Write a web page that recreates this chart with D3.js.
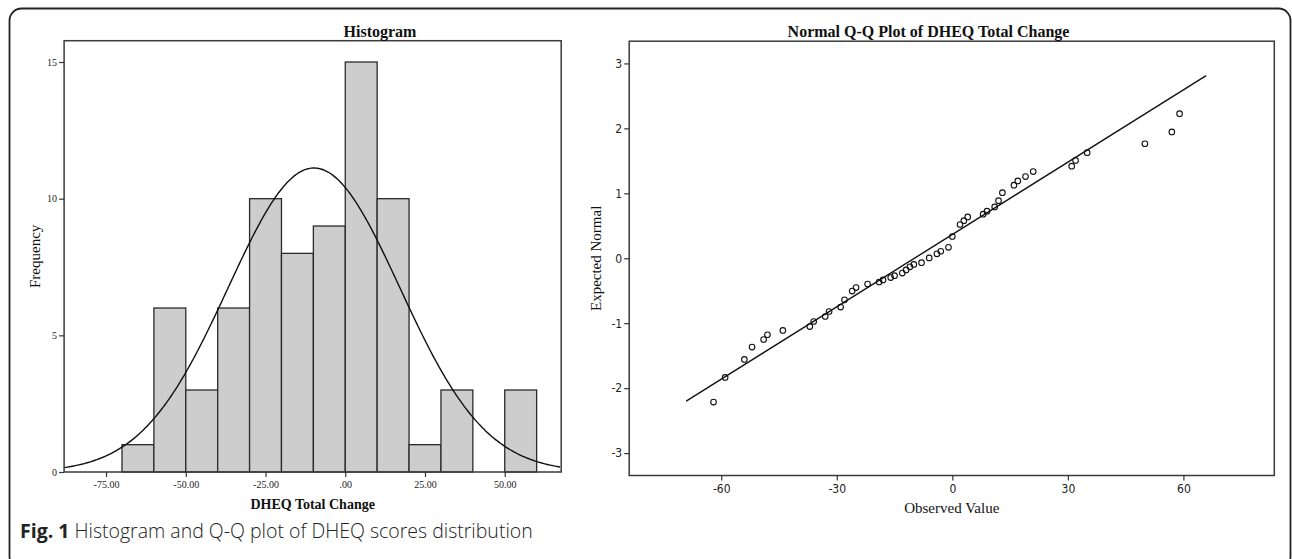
<!DOCTYPE html>
<html>
<head>
<meta charset="utf-8">
<script src="https://cdn.jsdelivr.net/npm/d3@7"></script>
<style>
  html, body { margin: 0; padding: 0; background: #fff; }
  svg { display: block; }
  .tick line { stroke: #333; stroke-width: 1.2; }
</style>
</head>
<body>
<svg id="chart" width="1292" height="559"></svg>
<script>
// ---------------- data ----------------
const histBinStarts = [-70, -60, -50, -40, -30, -20, -10, 0, 10, 20, 30, 40, 50];
const histBinWidth = 10;
const histCounts = [1, 6, 3, 6, 10, 8, 9, 15, 10, 1, 3, 0, 3];
const histXTicks = [-75, -50, -25, 0, 25, 50];
const histXTickLabels = ["-75.00", "-50.00", "-25.00", ".00", "25.00", "50.00"];
const histYTicks = [0, 5, 10, 15];
const curveMean = -9.8;
const curveSD = 26.9;
const curveN = 75;

const qqObserved = [-62, -59, -54, -52, -49, -48, -44, -37, -36, -33, -32, -29, -28, -26, -25, -22,
  -19, -18, -16, -15, -13, -12, -11, -10, -8, -6, -4, -3, -1, 0, 2, 3, 4, 8, 9, 11, 12, 13,
  16, 17, 19, 21, 31, 32, 35, 50, 57, 59];
const qqExpected = [-2.214, -1.835, -1.558, -1.368, -1.251, -1.178, -1.112, -1.052, -0.974, -0.897,
  -0.820, -0.752, -0.640, -0.506, -0.452, -0.397, -0.366, -0.334, -0.297, -0.268, -0.228, -0.180,
  -0.132, -0.095, -0.068, 0.005, 0.068, 0.108, 0.169, 0.335, 0.520, 0.578, 0.637, 0.678, 0.725,
  0.791, 0.886, 1.009, 1.125, 1.191, 1.258, 1.334, 1.418, 1.506, 1.625, 1.763, 1.945, 2.226];
const qqLineX = [-69.1, 65.9];
const qqLineY = [-2.20, 2.812];
const qqXTicks = [-60, -30, 0, 30, 60];
const qqYTicks = [-3, -2, -1, 0, 1, 2, 3];

// ---------------- drawing ----------------
const svg = d3.select("#chart");
svg.append("rect").attr("width", 1292).attr("height", 559).attr("fill", "#fff");

// outer figure frame
svg.append("rect")
  .attr("x", 9.5).attr("y", 8.5).attr("width", 1281).attr("height", 560)
  .attr("rx", 12).attr("ry", 12)
  .attr("fill", "none").attr("stroke", "#222").attr("stroke-width", 1.8);

const serif = "'Liberation Serif', 'DejaVu Serif', serif";
const narrow = "'Liberation Sans Narrow', 'DejaVu Sans Condensed', 'Liberation Sans', sans-serif";
const plain = d => String(d);

// ======== Histogram ========
const hx = d3.scaleLinear().domain([-88.15, 67.7]).range([64.1, 561.2]);
const hy = d3.scaleLinear().domain([0, 15.78]).range([472, 40.7]);

const hg = svg.append("g");
hg.append("defs").append("clipPath").attr("id", "hclip")
  .append("rect").attr("x", hx.range()[0]).attr("y", hy.range()[1])
  .attr("width", hx.range()[1] - hx.range()[0]).attr("height", hy.range()[0] - hy.range()[1]);

hg.selectAll("rect.bar")
  .data(histBinStarts.map((s, i) => ({ s, c: histCounts[i] })).filter(d => d.c > 0))
  .join("rect")
  .attr("class", "bar")
  .attr("x", d => hx(d.s))
  .attr("y", d => hy(d.c))
  .attr("width", d => hx(d.s + histBinWidth) - hx(d.s))
  .attr("height", d => hy(0) - hy(d.c))
  .attr("fill", "#cdcdcd")
  .attr("stroke", "#2a2a2a")
  .attr("stroke-width", 1.3);

// normal curve
const xs = d3.range(hx.domain()[0], hx.domain()[1] + 0.01, 0.5);
const dens = x => curveN * histBinWidth / (curveSD * Math.sqrt(2 * Math.PI)) *
  Math.exp(-0.5 * Math.pow((x - curveMean) / curveSD, 2));
hg.append("path")
  .datum(xs)
  .attr("clip-path", "url(#hclip)")
  .attr("d", d3.line().x(d => hx(d)).y(d => hy(dens(d))).curve(d3.curveBasis))
  .attr("fill", "none").attr("stroke", "#111").attr("stroke-width", 1.4);

// frame
hg.append("rect")
  .attr("x", hx.range()[0]).attr("y", hy.range()[1])
  .attr("width", hx.range()[1] - hx.range()[0]).attr("height", hy.range()[0] - hy.range()[1])
  .attr("fill", "none").attr("stroke", "#3a3a3a").attr("stroke-width", 1.5);

// axes
const hxAxis = hg.append("g").attr("transform", `translate(0,${hy(0)})`)
  .call(d3.axisBottom(hx).tickValues(histXTicks).tickFormat((d, i) => histXTickLabels[i])
    .tickSize(5).tickPadding(4));
hxAxis.select(".domain").remove();
hxAxis.selectAll("text").attr("font-family", serif).attr("font-size", 10).attr("fill", "#222");

const hyAxis = hg.append("g").attr("transform", `translate(${hx.range()[0]},0)`)
  .call(d3.axisLeft(hy).tickValues(histYTicks).tickFormat(plain).tickSize(5).tickPadding(2));
hyAxis.select(".domain").remove();
hyAxis.selectAll("text").attr("font-family", serif).attr("font-size", 10).attr("fill", "#222");

hg.append("text").attr("x", 380).attr("y", 36.5).attr("text-anchor", "middle")
  .attr("font-family", serif).attr("font-weight", "bold").attr("font-size", 16)
  .attr("fill", "#111").text("Histogram");
hg.append("text").attr("x", (hx.range()[0] + hx.range()[1]) / 2).attr("y", 509)
  .attr("text-anchor", "middle")
  .attr("font-family", serif).attr("font-weight", "bold").attr("font-size", 14)
  .attr("fill", "#111").text("DHEQ Total Change");
hg.append("text")
  .attr("transform", `translate(40,${(hy.range()[0] + hy.range()[1]) / 2}) rotate(-90)`)
  .attr("text-anchor", "middle")
  .attr("font-family", serif).attr("font-size", 15)
  .attr("fill", "#111").text("Frequency");

// ======== Q-Q plot ========
const qx = d3.scaleLinear().domain([-83.9, 83.6]).range([629.2, 1274.3]);
const qy = d3.scaleLinear().domain([-3.345, 3.342]).range([475.5, 41.2]);
const qg = svg.append("g");

qg.append("rect")
  .attr("x", qx.range()[0]).attr("y", qy.range()[1])
  .attr("width", qx.range()[1] - qx.range()[0]).attr("height", qy.range()[0] - qy.range()[1])
  .attr("fill", "none").attr("stroke", "#3a3a3a").attr("stroke-width", 1.5);

qg.append("line")
  .attr("x1", qx(qqLineX[0])).attr("y1", qy(qqLineY[0]))
  .attr("x2", qx(qqLineX[1])).attr("y2", qy(qqLineY[1]))
  .attr("stroke", "#111").attr("stroke-width", 1.4);

qg.selectAll("circle.pt")
  .data(qqObserved.map((x, i) => ({ x, y: qqExpected[i] })))
  .join("circle")
  .attr("class", "pt")
  .attr("cx", d => qx(d.x)).attr("cy", d => qy(d.y)).attr("r", 2.8)
  .attr("fill", "none").attr("stroke", "#111").attr("stroke-width", 1.1);

const qxAxis = qg.append("g").attr("transform", `translate(0,${qy.range()[0]})`)
  .call(d3.axisBottom(qx).tickValues(qqXTicks).tickFormat(plain).tickSize(5).tickPadding(4));
qxAxis.select(".domain").remove();
qxAxis.selectAll("text").attr("font-family", narrow).attr("font-size", 12).attr("fill", "#222");

const qyAxis = qg.append("g").attr("transform", `translate(${qx.range()[0]},0)`)
  .call(d3.axisLeft(qy).tickValues(qqYTicks).tickFormat(plain).tickSize(5).tickPadding(2));
qyAxis.select(".domain").remove();
qyAxis.selectAll("text").attr("font-family", narrow).attr("font-size", 12).attr("fill", "#222");

qg.append("text").attr("x", 928.5).attr("y", 37).attr("text-anchor", "middle")
  .attr("font-family", serif).attr("font-weight", "bold").attr("font-size", 16)
  .attr("fill", "#111").text("Normal Q-Q Plot of DHEQ Total Change");
qg.append("text").attr("x", (qx.range()[0] + qx.range()[1]) / 2).attr("y", 513)
  .attr("text-anchor", "middle")
  .attr("font-family", serif).attr("font-size", 15)
  .attr("fill", "#111").text("Observed Value");
qg.append("text")
  .attr("transform", `translate(601,${(qy.range()[0] + qy.range()[1]) / 2}) rotate(-90)`)
  .attr("text-anchor", "middle")
  .attr("font-family", serif).attr("font-size", 15)
  .attr("fill", "#111").text("Expected Normal");

// ======== caption ========
const cap = svg.append("text").attr("x", 20).attr("y", 538)
  .attr("font-family", "'Open Sans', 'Noto Sans', sans-serif").attr("font-size", 19.5).attr("fill", "#222");
cap.append("tspan").attr("font-weight", "bold").text("Fig. 1");
cap.append("tspan").attr("font-weight", 300).text(" Histogram and Q-Q plot of DHEQ scores distribution");
</script>
</body>
</html>
